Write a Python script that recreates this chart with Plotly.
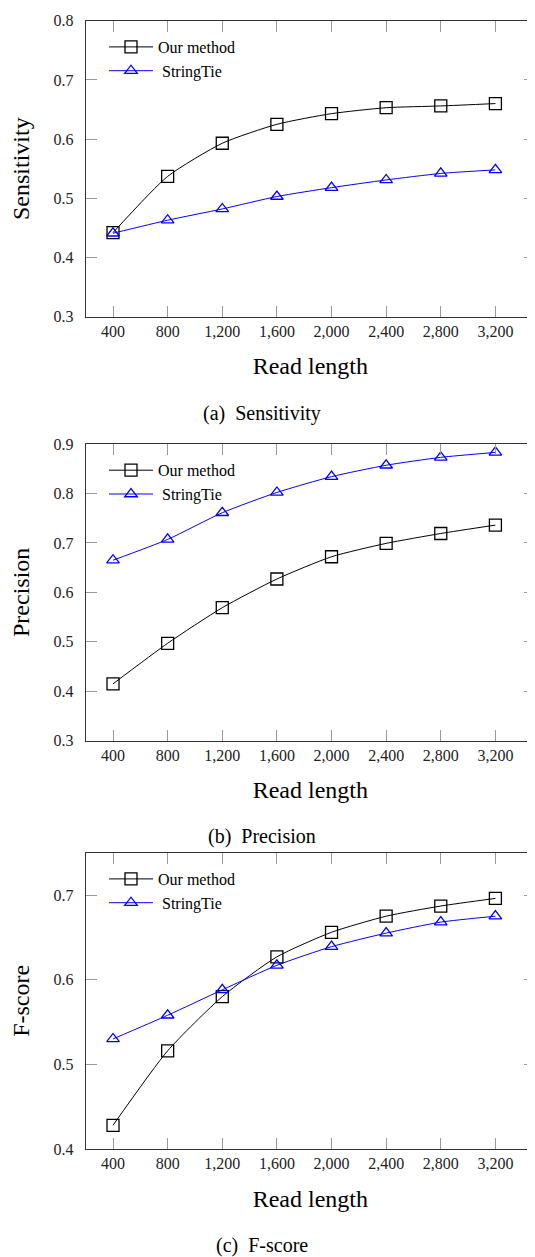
import plotly.graph_objects as go

read_length = [400, 800, 1200, 1600, 2000, 2400, 2800, 3200]

sens_ours = [0.442, 0.537, 0.593, 0.625, 0.643, 0.653, 0.656, 0.660]
sens_st = [0.441, 0.463, 0.482, 0.503, 0.518, 0.531, 0.542, 0.548]

prec_ours = [0.415, 0.497, 0.569, 0.627, 0.672, 0.699, 0.719, 0.736]
prec_st = [0.665, 0.707, 0.761, 0.802, 0.834, 0.857, 0.873, 0.883]

f_ours = [0.428, 0.516, 0.580, 0.627, 0.656, 0.675, 0.687, 0.696]
f_st = [0.530, 0.558, 0.588, 0.617, 0.639, 0.655, 0.668, 0.675]

panels = [
    ("Sensitivity", sens_ours, sens_st, [0.3, 0.8], [0.3, 0.4, 0.5, 0.6, 0.7, 0.8], "(a)  Sensitivity"),
    ("Precision", prec_ours, prec_st, [0.3, 0.9], [0.3, 0.4, 0.5, 0.6, 0.7, 0.8, 0.9], "(b)  Precision"),
    ("F-score", f_ours, f_st, [0.4, 0.75], [0.4, 0.5, 0.6, 0.7], "(c)  F-score"),
]

# the page body has an 8px margin, so figure coords = page coords - 8
OFF = 8
W, H = 535 - OFF, 1257 - OFF
FONT = "Liberation Serif, Times New Roman, serif"
boxes = [(20.7 - OFF, 316.7 - OFF), (444.0 - OFF, 740.7 - OFF), (852.7 - OFF, 1149.0 - OFF)]
x_left = 85.7 - OFF
captions_y = [414 - OFF, 837 - OFF, 1245 - OFF]

fig = go.Figure()
for i, (name, ours, st, yr, yt, cap) in enumerate(panels):
    n = "" if i == 0 else str(i + 1)
    leg = "legend" if i == 0 else "legend" + str(i + 1)
    fig.add_trace(go.Scatter(
        x=read_length, y=ours, name="Our method", mode="lines+markers",
        line=dict(color="black", width=1, shape="spline", smoothing=0.6),
        marker=dict(symbol="square-open", size=12, color="black", line=dict(width=1.3)),
        xaxis="x" + n, yaxis="y" + n, legend=leg))
    fig.add_trace(go.Scatter(
        x=read_length, y=st, name=" StringTie", mode="lines+markers",
        line=dict(color="#0000ff", width=1, shape="spline", smoothing=0.6),
        marker=dict(symbol="triangle-up-open", size=11, color="#0000ff", line=dict(width=1.3)),
        xaxis="x" + n, yaxis="y" + n, legend=leg))
    top, bot = boxes[i]
    common = dict(showline=True, mirror="allticks", linecolor="#333", linewidth=1,
                  ticks="inside", ticklen=11, tickcolor="#999", tickwidth=1,
                  showgrid=False, zeroline=False, automargin=False,
                  tickfont=dict(family=FONT, size=16, color="#222"))
    fig.layout["xaxis" + n] = dict(
        common, domain=[x_left / W, 1.0], range=[200, 3490],
        tickvals=read_length, tickformat=",d", anchor="y" + n,
        title=dict(text="Read length", font=dict(family=FONT, size=24, color="black"), standoff=18))
    fig.layout["yaxis" + n] = dict(
        common, domain=[1 - bot / H, 1 - top / H], range=yr, tickvals=yt,
        tickformat=".1f", anchor="x" + n, ticklabelstandoff=8,
        title=dict(text=name, font=dict(family=FONT, size=24, color="black"), standoff=27))
    fig.layout[leg] = dict(
        x=96 / W, y=1 - (top + 9.3) / H, xanchor="left", yanchor="top",
        bgcolor="rgba(0,0,0,0)", borderwidth=0, itemwidth=44,
        font=dict(family=FONT, size=16, color="black"), tracegroupgap=0)
    fig.add_annotation(text=cap, x=(262 - OFF) / W, y=1 - captions_y[i] / H,
                       xref="paper", yref="paper", xanchor="center", yanchor="middle",
                       showarrow=False, font=dict(family=FONT, size=20, color="black"))

fig.update_layout(width=W, height=H, margin=dict(l=0, r=0, t=0, b=0, autoexpand=False),
                  paper_bgcolor="white", plot_bgcolor="white", showlegend=True)
fig.write_html("out.html")
